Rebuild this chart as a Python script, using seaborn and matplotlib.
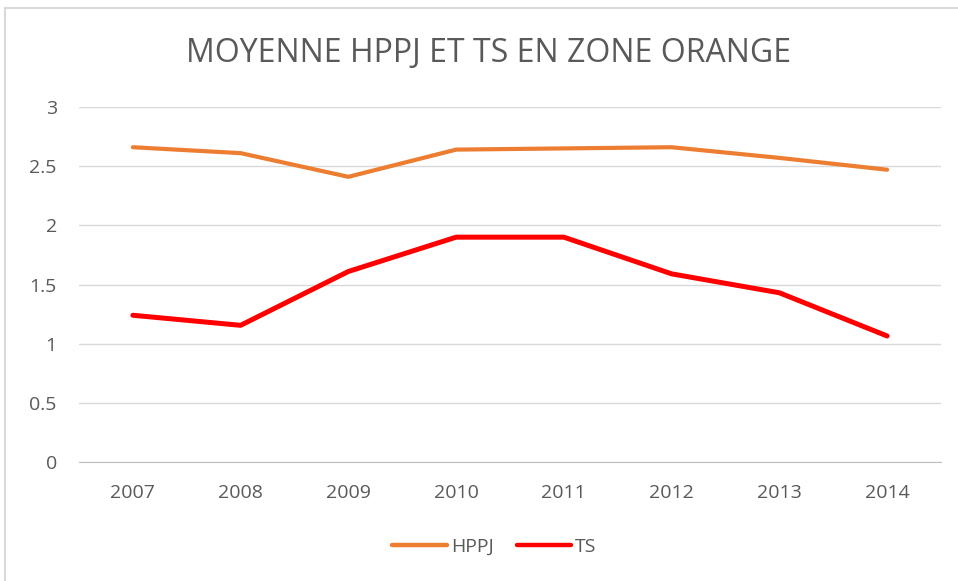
import pandas as pd
import seaborn as sns
import matplotlib.pyplot as plt
from matplotlib.patches import Rectangle

years = ["2007", "2008", "2009", "2010", "2011", "2012", "2013", "2014"]
hppj = [2.66, 2.61, 2.41, 2.64, 2.65, 2.66, 2.57, 2.47]
ts = [1.24, 1.155, 1.61, 1.90, 1.90, 1.59, 1.43, 1.065]

df = pd.DataFrame({"Année": years * 2,
                   "Valeur": hppj + ts,
                   "Série": ["HPPJ"] * len(years) + ["TS"] * len(years)})

sns.set_style("white")
plt.rcParams["font.family"] = ["Open Sans", "DejaVu Sans"]
grey = "#595959"

fig = plt.figure(figsize=(9.58, 5.81), dpi=100)
ax = fig.add_axes([79 / 958, 119 / 581, 862 / 958, 355 / 581])

sns.lineplot(data=df, x="Année", y="Valeur", hue="Série",
             palette={"HPPJ": "#ED7D31", "TS": "#FF0000"},
             linewidth=3.2, ax=ax, legend=True)
for line, w in zip(ax.lines, [3.0, 3.6]):
    line.set_linewidth(w)
    line.set_solid_capstyle("round")

ax.set_xlim(-0.5, len(years) - 0.5)
ax.set_ylim(0, 3)
ax.set_yticks([0, 0.5, 1, 1.5, 2, 2.5, 3])
ax.set_yticklabels(["0", "0.5", "1", "1.5", "2", "2.5", "3"])
ax.grid(axis="y", color="#D9D9D9", linewidth=1)
ax.set_axisbelow(True)
for s in ["top", "right", "left"]:
    ax.spines[s].set_visible(False)
ax.spines["bottom"].set_color("#BFBFBF")
ax.tick_params(axis="both", length=0, labelsize=14, colors=grey)
ax.tick_params(axis="x", pad=16)
ax.tick_params(axis="y", pad=16)
ax.set_xlabel("")
ax.set_ylabel("")

handles, labels = ax.get_legend_handles_labels()
ax.legend(handles, labels, loc="center", bbox_to_anchor=(0.482, -0.24),
          ncol=2, frameon=False, fontsize=14, labelcolor=grey,
          handlelength=2.8, handletextpad=0.2, columnspacing=1.2)

fig.suptitle("MOYENNE HPPJ ET TS EN ZONE ORANGE", y=1 - 53 / 581, va="center",
             fontsize=23, color=grey, x=489 / 958)

fig.patches.append(Rectangle((5 / 958, -0.1), 1.2, 1.1 - 8 / 581, transform=fig.transFigure,
                             fill=False, edgecolor="#D9D9D9", linewidth=1.5))

fig.savefig("out.png", dpi=100)
